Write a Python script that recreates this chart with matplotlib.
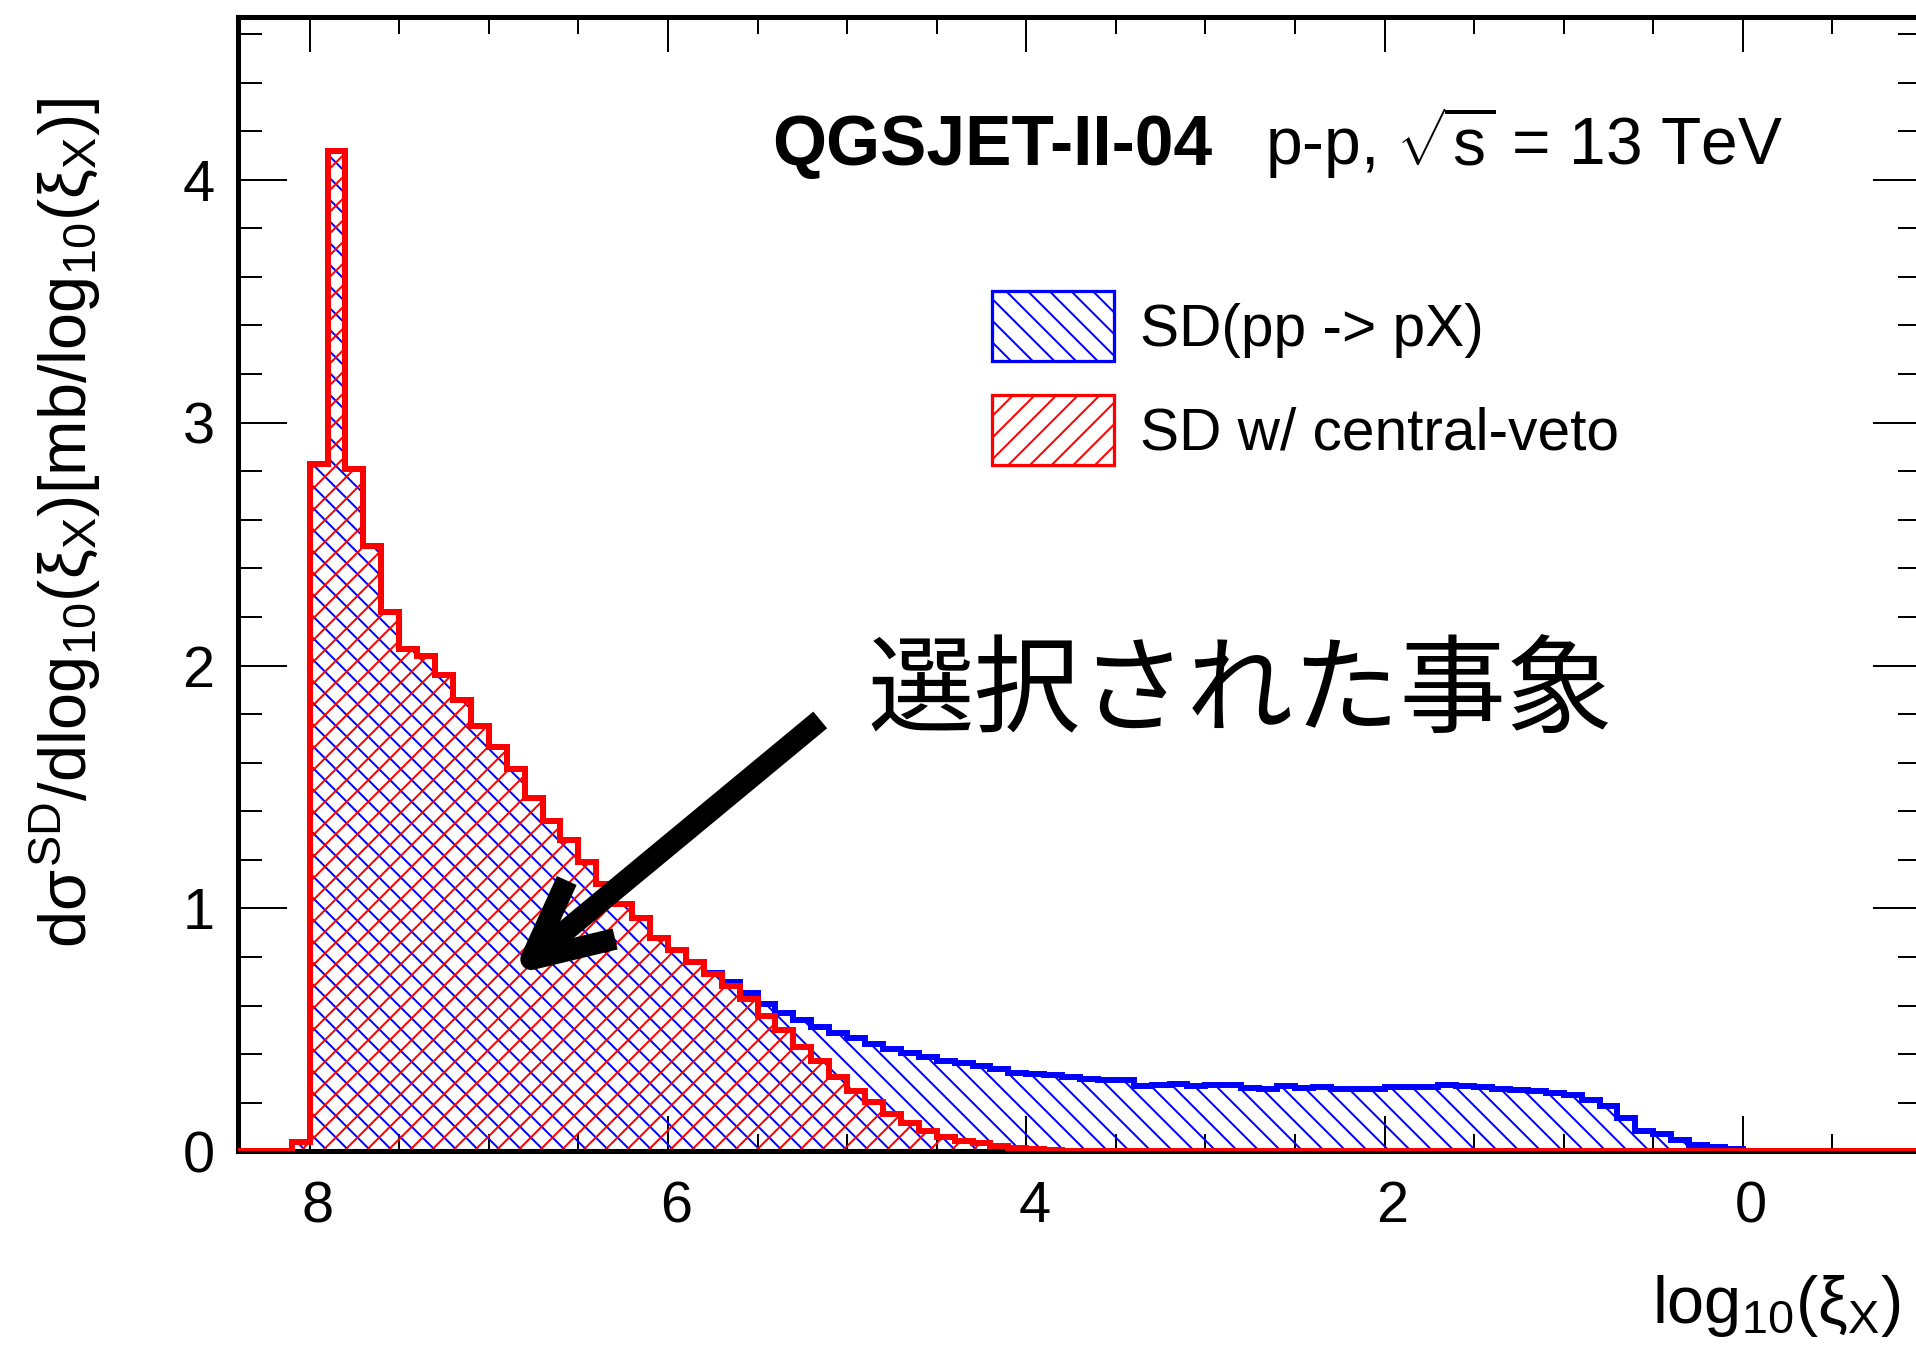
import numpy as np
import matplotlib

matplotlib.use("Agg")
import matplotlib.pyplot as plt
from matplotlib.patches import Patch
from matplotlib.ticker import MultipleLocator
from matplotlib.transforms import ScaledTranslation

# log10(xi_X) bins of width 0.1; the axis runs from 8.4 (left) down to -1.0 (right)
xi_edges = np.round(np.linspace(8.4, -1.0, 95), 2)

# dsigma/dlog10(xi_X) [mb], bins listed left to right
sd_all = [
    0, 0, 0, 0.04, 2.83, 4.12, 2.81, 2.49, 2.22, 2.07,
    2.04, 1.96, 1.86, 1.75, 1.665, 1.575, 1.455, 1.36, 1.28, 1.19,
    1.10, 1.02, 0.96, 0.88, 0.83, 0.778, 0.735, 0.695, 0.65, 0.605,
    0.57, 0.54, 0.512, 0.487, 0.468, 0.443, 0.42, 0.405, 0.39, 0.372,
    0.364, 0.35, 0.338, 0.322, 0.318, 0.313, 0.306, 0.298, 0.294, 0.292,
    0.27, 0.271, 0.277, 0.268, 0.271, 0.271, 0.26, 0.257, 0.268, 0.26,
    0.263, 0.257, 0.257, 0.257, 0.263, 0.263, 0.263, 0.271, 0.27, 0.265,
    0.258, 0.254, 0.248, 0.241, 0.231, 0.212, 0.188, 0.138, 0.085, 0.07,
    0.046, 0.027, 0.019, 0.008, 0.002, 0, 0, 0, 0, 0,
    0, 0, 0, 0,
]
sd_veto = [
    0, 0, 0, 0.04, 2.83, 4.12, 2.81, 2.49, 2.22, 2.07,
    2.04, 1.96, 1.86, 1.75, 1.665, 1.575, 1.455, 1.36, 1.28, 1.19,
    1.10, 1.02, 0.96, 0.88, 0.83, 0.778, 0.73, 0.68, 0.625, 0.558,
    0.50, 0.43, 0.37, 0.307, 0.249, 0.201, 0.153, 0.115, 0.083, 0.06,
    0.044, 0.033, 0.022, 0.014, 0.009, 0.004, 0.002, 0.001, 0, 0,
    0, 0, 0, 0, 0, 0, 0, 0, 0, 0,
    0, 0, 0, 0, 0, 0, 0, 0, 0, 0,
    0, 0, 0, 0, 0, 0, 0, 0, 0, 0,
    0, 0, 0, 0, 0, 0, 0, 0, 0, 0,
    0, 0, 0, 0,
]
series_labels = ["SD(pp -> pX)", "SD w/ central-veto"]

BLUE = "#0000ff"
RED = "#ff0000"
DPI = 130

plt.rcParams.update(
    {
        "font.family": "Liberation Sans",
        "mathtext.fontset": "custom",
        "mathtext.rm": "Liberation Sans",
        "mathtext.it": "Liberation Sans",
        "mathtext.bf": "Liberation Sans:bold",
        "mathtext.sf": "Liberation Sans",
        "hatch.linewidth": 1.1,
        "axes.linewidth": 2.8,
        "figure.facecolor": "white",
    }
)

fig = plt.figure(figsize=(1916 / DPI, 1360 / DPI), dpi=DPI)
ax = fig.add_axes([0.12422, 0.15346, 0.87891, 0.83404])

# hatched areas, then step outlines (red drawn over blue, as in the original)
for vals, col, hatch, z in [(sd_all, BLUE, "\\\\", 2.0), (sd_veto, RED, "//", 2.2)]:
    ax.stairs(vals, xi_edges, fill=True, facecolor="none", edgecolor=col,
              hatch=hatch, linewidth=0, zorder=z)
    ax.stairs(vals, xi_edges, fill=False, color=col, linewidth=3.3,
              zorder=z + 1.0)

ax.set_xlim(8.4, -1.0)
ax.set_ylim(0, 4.67)
ax.xaxis.set_major_locator(MultipleLocator(2))
ax.xaxis.set_minor_locator(MultipleLocator(0.5))
ax.yaxis.set_major_locator(MultipleLocator(1))
ax.yaxis.set_minor_locator(MultipleLocator(0.2))

ax.tick_params(which="both", direction="in", top=True, right=True,
               width=1.1, color="black")
ax.tick_params(axis="x", which="major", length=19.4, pad=16, labelsize=32)
ax.tick_params(axis="x", which="minor", length=9.4)
ax.tick_params(axis="y", which="major", length=27, pad=13, labelsize=32)
ax.tick_params(axis="y", which="minor", length=13.3)
for sp in ax.spines.values():
    sp.set_zorder(2.5)
# x labels sit a little right of their ticks in the original
shift = ScaledTranslation(8 / DPI, 0, fig.dpi_scale_trans)
for lab in ax.get_xticklabels():
    lab.set_transform(lab.get_transform() + shift)

# axis titles
ax.text(0.987, -0.151, r"log$_{10}$($\xi_{\mathrm{X}}$)", transform=ax.transAxes,
        ha="right", va="baseline", fontsize=37)
ax.text(-0.0897, 0.9286,
        r"d$\sigma^{\mathrm{SD}}$/dlog$_{10}$($\xi_{\mathrm{X}}$)[mb/log$_{10}$($\xi_{\mathrm{X}}$)]",
        transform=ax.transAxes, rotation=90, rotation_mode="anchor",
        ha="right", va="baseline", fontsize=37)

# header
ax.text(0.317, 0.8695, "QGSJET-II-04", transform=ax.transAxes,
        fontsize=38.5, fontweight="bold", va="baseline")
ax.text(0.6099, 0.8695, r"p-p, $\sqrt{s}$ = 13 TeV", transform=ax.transAxes,
        fontsize=36.5, va="baseline")

# legend
handles = [
    Patch(facecolor="white", edgecolor=BLUE, hatch="\\\\", linewidth=1.8),
    Patch(facecolor="white", edgecolor=RED, hatch="//", linewidth=1.8),
]
ax.legend(handles, series_labels, loc="upper left", bbox_to_anchor=(0.4477, 0.7584),
          frameon=False, fontsize=32.5, borderpad=0, borderaxespad=0,
          handlelength=2.08, handleheight=1.46, handletextpad=0.45,
          labelspacing=0.58)

# annotation: arrow pointing at the selected events
ax.annotate("", xy=(6.87, 0.726), xytext=(5.15, 1.776),
            arrowprops=dict(arrowstyle="->,head_length=4.3,head_width=2.1",
                            mutation_scale=10, lw=12, color="black",
                            shrinkA=0, shrinkB=0, capstyle="butt"),
            zorder=5)
ax.text(4.885, 1.885, "選択された事象", fontsize=59, va="center", ha="left",
        family=["Noto Sans CJK JP", "DejaVu Sans"], zorder=5)

fig.savefig("out.png", dpi=DPI, facecolor="white")
